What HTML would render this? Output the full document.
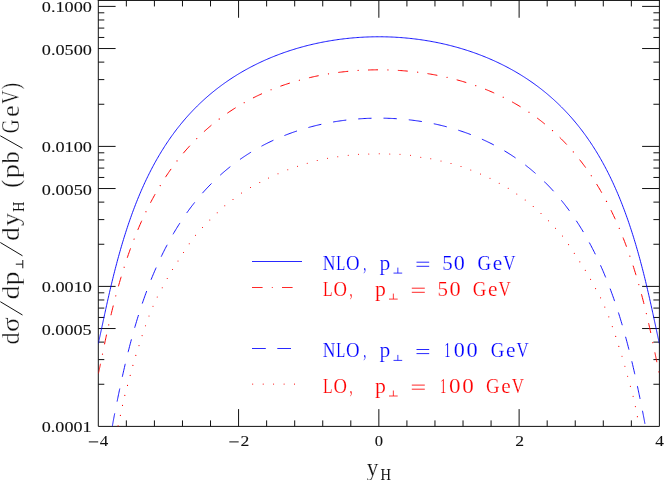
<!DOCTYPE html>
<html><head><meta charset="utf-8"><title>plot</title>
<style>
html,body{margin:0;padding:0;background:#fff;overflow:hidden;}
text.th{stroke:#fff;stroke-width:0.18px;paint-order:fill stroke;}
text.tk{stroke:#111;stroke-width:0.1px;}
text.tt{stroke:#fff;stroke-width:0.3px;paint-order:fill stroke;}
svg{position:absolute;left:0;top:0;display:block;font-family:"Liberation Serif",serif;will-change:transform;transform:translateZ(0);}
</style></head><body>
<svg width="664" height="480" viewBox="0 0 664 480">
<rect width="664" height="480" fill="#fff"/>
<g stroke="#111" stroke-width="1" fill="none" stroke-linecap="butt">
<path d="M98.3 -0.04999999999999999V426.4H659.4V-0.04999999999999999M97.8 0.45H659.9"/>
<path d="M126.35 426.4v-6.0M126.35 0.45v6.0M154.41 426.4v-6.0M154.41 0.45v6.0M182.47 426.4v-6.0M182.47 0.45v6.0M210.52 426.4v-6.0M210.52 0.45v6.0M238.57 426.4v-17.3M238.57 0.45v17.3M266.63 426.4v-6.0M266.63 0.45v6.0M294.69 426.4v-6.0M294.69 0.45v6.0M322.74 426.4v-6.0M322.74 0.45v6.0M350.80 426.4v-6.0M350.80 0.45v6.0M378.85 426.4v-17.3M378.85 0.45v17.3M406.91 426.4v-6.0M406.91 0.45v6.0M434.96 426.4v-6.0M434.96 0.45v6.0M463.02 426.4v-6.0M463.02 0.45v6.0M491.07 426.4v-6.0M491.07 0.45v6.0M519.12 426.4v-17.3M519.12 0.45v17.3M547.18 426.4v-6.0M547.18 0.45v6.0M575.24 426.4v-6.0M575.24 0.45v6.0M603.29 426.4v-6.0M603.29 0.45v6.0M631.35 426.4v-6.0M631.35 0.45v6.0M98.3 384.26h6.0M659.4 384.26h-6.0M98.3 359.60h6.0M659.4 359.60h-6.0M98.3 342.11h6.0M659.4 342.11h-6.0M98.3 328.54h17.3M659.4 328.54h-17.3M98.3 317.46h6.0M659.4 317.46h-6.0M98.3 308.09h6.0M659.4 308.09h-6.0M98.3 299.97h6.0M659.4 299.97h-6.0M98.3 292.81h6.0M659.4 292.81h-6.0M98.3 286.40h17.3M659.4 286.40h-17.3M98.3 244.26h6.0M659.4 244.26h-6.0M98.3 219.60h6.0M659.4 219.60h-6.0M98.3 202.11h6.0M659.4 202.11h-6.0M98.3 188.54h17.3M659.4 188.54h-17.3M98.3 177.46h6.0M659.4 177.46h-6.0M98.3 168.09h6.0M659.4 168.09h-6.0M98.3 159.97h6.0M659.4 159.97h-6.0M98.3 152.81h6.0M659.4 152.81h-6.0M98.3 146.40h17.3M659.4 146.40h-17.3M98.3 104.26h6.0M659.4 104.26h-6.0M98.3 79.60h6.0M659.4 79.60h-6.0M98.3 62.11h6.0M659.4 62.11h-6.0M98.3 48.54h17.3M659.4 48.54h-17.3M98.3 37.46h6.0M659.4 37.46h-6.0M98.3 28.09h6.0M659.4 28.09h-6.0M98.3 19.97h6.0M659.4 19.97h-6.0M98.3 12.81h6.0M659.4 12.81h-6.0M98.3 6.40h17.3M659.4 6.40h-17.3"/>
</g>
<clipPath id="cp"><rect x="98.3" y="0.45" width="561.1" height="425.95"/></clipPath>
<g clip-path="url(#cp)" fill="none" stroke-width="0.92">
<path d="M98.30 343.62L98.30 343.60L98.31 343.57L98.33 343.50L98.35 343.41L98.37 343.30L98.40 343.16L98.44 343.00L98.48 342.81L98.53 342.59L98.58 342.35L98.64 342.09L98.71 341.80L98.78 341.48L98.86 341.13L98.94 340.76L99.03 340.37L99.12 339.94L99.22 339.49L99.32 339.02L99.43 338.51L99.55 337.98L99.67 337.42L99.80 336.84L99.93 336.23L100.07 335.59L100.21 334.92L100.36 334.23L100.52 333.51L100.68 332.76L100.85 331.98L101.02 331.18L101.20 330.35L101.38 329.49L101.57 328.61L101.76 327.70L101.96 326.76L102.17 325.80L102.38 324.81L102.60 323.79L102.82 322.75L103.05 321.68L103.28 320.59L103.52 319.47L103.77 318.33L104.02 317.17L104.27 315.98L104.54 314.76L104.80 313.53L105.08 312.27L105.35 310.99L105.64 309.69L105.93 308.37L106.22 307.02L106.52 305.66L106.83 304.28L107.14 302.88L107.46 301.46L107.78 300.02L108.11 298.57L108.44 297.09L108.78 295.61L109.12 294.10L109.47 292.59L109.83 291.05L110.19 289.51L110.55 287.95L110.92 286.38L111.30 284.79L111.68 283.20L112.07 281.59L112.46 279.97L112.86 278.35L113.26 276.71L113.67 275.07L114.09 273.41L114.51 271.75L114.93 270.09L115.36 268.41L115.80 266.73L116.24 265.05L116.69 263.36L117.14 261.67L117.59 259.97L118.06 258.27L118.52 256.56L119.00 254.86L119.48 253.15L119.96 251.44L120.45 249.73L120.94 248.02L121.44 246.31L121.94 244.60L122.45 242.88L122.97 241.17L123.49 239.47L124.01 237.76L124.54 236.05L125.08 234.35L125.62 232.65L126.16 230.95L126.71 229.26L127.27 227.57L127.83 225.88L128.39 224.20L128.96 222.53L129.54 220.85L130.12 219.18L130.71 217.52L131.30 215.86L131.89 214.21L132.49 212.57L133.10 210.93L133.71 209.29L134.33 207.67L134.95 206.05L135.57 204.43L136.20 202.83L136.84 201.23L137.48 199.64L138.12 198.05L138.77 196.47L139.43 194.91L140.09 193.34L140.75 191.79L141.42 190.24L142.10 188.71L142.77 187.18L143.46 185.66L144.15 184.14L144.84 182.64L145.54 181.15L146.24 179.66L146.95 178.18L147.66 176.71L148.38 175.25L149.10 173.80L149.82 172.36L150.55 170.92L151.29 169.50L152.03 168.08L152.77 166.68L153.52 165.28L154.28 163.89L155.03 162.51L155.80 161.14L156.56 159.78L157.33 158.43L158.11 157.08L158.89 155.75L159.68 154.42L160.47 153.11L161.26 151.80L162.06 150.51L162.86 149.22L163.67 147.94L164.48 146.67L165.29 145.41L166.11 144.16L166.94 142.92L167.77 141.68L168.60 140.46L169.44 139.24L170.28 138.04L171.12 136.84L171.97 135.65L172.83 134.47L173.68 133.30L174.55 132.14L175.41 130.99L176.28 129.85L177.16 128.71L178.03 127.58L178.92 126.47L179.80 125.36L180.69 124.26L181.59 123.17L182.49 122.08L183.39 121.01L184.30 119.94L185.21 118.88L186.12 117.84L187.04 116.79L187.96 115.76L188.89 114.74L189.82 113.72L190.75 112.71L191.69 111.72L192.63 110.72L193.57 109.74L194.52 108.77L195.48 107.80L196.43 106.84L197.39 105.89L198.36 104.94L199.32 104.01L200.29 103.08L201.27 102.16L202.25 101.25L203.23 100.35L204.21 99.45L205.20 98.56L206.19 97.68L207.19 96.81L208.19 95.94L209.19 95.08L210.20 94.23L211.20 93.39L212.22 92.55L213.23 91.72L214.25 90.90L215.28 90.08L216.30 89.28L217.33 88.48L218.36 87.68L219.40 86.90L220.44 86.12L221.48 85.35L222.53 84.58L223.57 83.82L224.63 83.07L225.68 82.33L226.74 81.59L227.80 80.86L228.86 80.14L229.93 79.42L231.00 78.71L232.07 78.01L233.15 77.31L234.23 76.62L235.31 75.94L236.40 75.26L237.48 74.59L238.57 73.93L239.67 73.27L240.76 72.62L241.86 71.98L242.97 71.34L244.07 70.71L245.18 70.09L246.29 69.47L247.40 68.86L248.51 68.25L249.63 67.65L250.75 67.06L251.88 66.47L253.00 65.89L254.13 65.32L255.26 64.75L256.39 64.19L257.53 63.63L258.67 63.08L259.81 62.54L260.95 62.00L262.10 61.47L263.24 60.95L264.39 60.43L265.55 59.91L266.70 59.41L267.86 58.91L269.02 58.41L270.18 57.92L271.34 57.44L272.51 56.96L273.68 56.49L274.85 56.02L276.02 55.56L277.19 55.11L278.37 54.66L279.55 54.22L280.73 53.78L281.91 53.35L283.09 52.92L284.28 52.50L285.47 52.09L286.66 51.68L287.85 51.28L289.04 50.88L290.24 50.49L291.44 50.11L292.64 49.73L293.84 49.36L295.04 48.99L296.24 48.62L297.45 48.27L298.66 47.92L299.86 47.57L301.08 47.23L302.29 46.90L303.50 46.57L304.72 46.24L305.93 45.92L307.15 45.61L308.37 45.31L309.59 45.00L310.82 44.71L312.04 44.42L313.26 44.13L314.49 43.85L315.72 43.58L316.95 43.31L318.18 43.05L319.41 42.79L320.64 42.54L321.88 42.29L323.11 42.05L324.35 41.82L325.59 41.59L326.83 41.36L328.06 41.14L329.31 40.93L330.55 40.72L331.79 40.52L333.03 40.32L334.28 40.13L335.52 39.94L336.77 39.76L338.02 39.58L339.26 39.41L340.51 39.24L341.76 39.08L343.01 38.93L344.26 38.78L345.51 38.64L346.77 38.50L348.02 38.36L349.27 38.24L350.53 38.11L351.78 38.00L353.04 37.89L354.29 37.78L355.55 37.68L356.81 37.58L358.06 37.49L359.32 37.41L360.58 37.33L361.84 37.25L363.10 37.18L364.36 37.12L365.62 37.06L366.88 37.01L368.13 36.96L369.39 36.92L370.66 36.88L371.92 36.85L373.18 36.82L374.44 36.80L375.70 36.78L376.96 36.77L378.22 36.77L379.48 36.77L380.74 36.77L382.00 36.78L383.26 36.80L384.52 36.82L385.78 36.85L387.04 36.88L388.31 36.92L389.57 36.96L390.82 37.01L392.08 37.06L393.34 37.12L394.60 37.18L395.86 37.25L397.12 37.33L398.38 37.41L399.64 37.49L400.89 37.58L402.15 37.68L403.41 37.78L404.66 37.89L405.92 38.00L407.17 38.11L408.43 38.24L409.68 38.36L410.93 38.50L412.19 38.64L413.44 38.78L414.69 38.93L415.94 39.08L417.19 39.24L418.44 39.41L419.68 39.58L420.93 39.76L422.18 39.94L423.42 40.13L424.67 40.32L425.91 40.52L427.15 40.72L428.39 40.93L429.64 41.14L430.87 41.36L432.11 41.59L433.35 41.82L434.59 42.05L435.82 42.29L437.06 42.54L438.29 42.79L439.52 43.05L440.75 43.31L441.98 43.58L443.21 43.85L444.44 44.13L445.66 44.42L446.88 44.71L448.11 45.00L449.33 45.31L450.55 45.61L451.77 45.92L452.98 46.24L454.20 46.57L455.41 46.90L456.62 47.23L457.84 47.57L459.04 47.92L460.25 48.27L461.46 48.62L462.66 48.99L463.86 49.36L465.06 49.73L466.26 50.11L467.46 50.49L468.66 50.88L469.85 51.28L471.04 51.68L472.23 52.09L473.42 52.50L474.61 52.92L475.79 53.35L476.97 53.78L478.15 54.22L479.33 54.66L480.51 55.11L481.68 55.56L482.85 56.02L484.02 56.49L485.19 56.96L486.36 57.44L487.52 57.92L488.68 58.41L489.84 58.91L491.00 59.41L492.15 59.91L493.31 60.43L494.46 60.95L495.60 61.47L496.75 62.00L497.89 62.54L499.03 63.08L500.17 63.63L501.31 64.19L502.44 64.75L503.57 65.32L504.70 65.89L505.82 66.47L506.95 67.06L508.07 67.65L509.19 68.25L510.30 68.86L511.41 69.47L512.52 70.09L513.63 70.71L514.73 71.34L515.84 71.98L516.94 72.62L518.03 73.27L519.12 73.93L520.22 74.59L521.30 75.26L522.39 75.94L523.47 76.62L524.55 77.31L525.63 78.01L526.70 78.71L527.77 79.42L528.84 80.14L529.90 80.86L530.96 81.59L532.02 82.33L533.07 83.07L534.13 83.82L535.17 84.58L536.22 85.35L537.26 86.12L538.30 86.90L539.34 87.68L540.37 88.48L541.40 89.28L542.42 90.08L543.45 90.90L544.47 91.72L545.48 92.55L546.50 93.39L547.50 94.23L548.51 95.08L549.51 95.94L550.51 96.81L551.51 97.68L552.50 98.56L553.49 99.45L554.47 100.35L555.45 101.25L556.43 102.16L557.41 103.08L558.38 104.01L559.34 104.94L560.31 105.89L561.27 106.84L562.22 107.80L563.18 108.77L564.13 109.74L565.07 110.72L566.01 111.72L566.95 112.71L567.88 113.72L568.81 114.74L569.74 115.76L570.66 116.79L571.58 117.84L572.49 118.88L573.40 119.94L574.31 121.01L575.21 122.08L576.11 123.17L577.01 124.26L577.90 125.36L578.78 126.47L579.67 127.58L580.54 128.71L581.42 129.85L582.29 130.99L583.15 132.14L584.02 133.30L584.87 134.47L585.73 135.65L586.58 136.84L587.42 138.04L588.26 139.24L589.10 140.46L589.93 141.68L590.76 142.92L591.59 144.16L592.41 145.41L593.22 146.67L594.03 147.94L594.84 149.22L595.64 150.51L596.44 151.80L597.23 153.11L598.02 154.42L598.81 155.75L599.59 157.08L600.37 158.43L601.14 159.78L601.90 161.14L602.67 162.51L603.42 163.89L604.18 165.28L604.93 166.68L605.67 168.08L606.41 169.50L607.15 170.92L607.88 172.36L608.60 173.80L609.32 175.25L610.04 176.71L610.75 178.18L611.46 179.66L612.16 181.15L612.86 182.64L613.55 184.14L614.24 185.66L614.93 187.18L615.60 188.71L616.28 190.24L616.95 191.79L617.61 193.34L618.27 194.91L618.93 196.47L619.58 198.05L620.22 199.64L620.86 201.23L621.50 202.83L622.13 204.43L622.75 206.05L623.37 207.67L623.99 209.29L624.60 210.93L625.21 212.57L625.81 214.21L626.40 215.86L626.99 217.52L627.58 219.18L628.16 220.85L628.74 222.53L629.31 224.20L629.87 225.88L630.43 227.57L630.99 229.26L631.54 230.95L632.08 232.65L632.62 234.35L633.16 236.05L633.69 237.76L634.21 239.47L634.73 241.17L635.25 242.88L635.76 244.60L636.26 246.31L636.76 248.02L637.25 249.73L637.74 251.44L638.22 253.15L638.70 254.86L639.18 256.56L639.64 258.27L640.11 259.97L640.56 261.67L641.01 263.36L641.46 265.05L641.90 266.73L642.34 268.41L642.77 270.09L643.19 271.75L643.61 273.41L644.03 275.07L644.44 276.71L644.84 278.35L645.24 279.97L645.63 281.59L646.02 283.20L646.40 284.79L646.78 286.38L647.15 287.95L647.51 289.51L647.87 291.05L648.23 292.59L648.58 294.10L648.92 295.61L649.26 297.09L649.59 298.57L649.92 300.02L650.24 301.46L650.56 302.88L650.87 304.28L651.18 305.66L651.48 307.02L651.77 308.37L652.06 309.69L652.35 310.99L652.62 312.27L652.90 313.53L653.16 314.76L653.43 315.98L653.68 317.17L653.93 318.33L654.18 319.47L654.42 320.59L654.65 321.68L654.88 322.75L655.10 323.79L655.32 324.81L655.53 325.80L655.74 326.76L655.94 327.70L656.13 328.61L656.32 329.49L656.50 330.35L656.68 331.18L656.85 331.98L657.02 332.76L657.18 333.51L657.34 334.23L657.49 334.92L657.63 335.59L657.77 336.23L657.90 336.84L658.03 337.42L658.15 337.98L658.27 338.51L658.38 339.02L658.48 339.49L658.58 339.94L658.67 340.37L658.76 340.76L658.84 341.13L658.92 341.48L658.99 341.80L659.06 342.09L659.12 342.35L659.17 342.59L659.22 342.81L659.26 343.00L659.30 343.16L659.33 343.30L659.35 343.41L659.37 343.50L659.39 343.57L659.40 343.60L659.40 343.62" stroke="#0000ff"/>
<path d="M98.30 373.96L98.30 373.95L98.31 373.91L98.33 373.85L98.35 373.76L98.37 373.65L98.40 373.52L98.44 373.36L98.48 373.17L98.53 372.96L98.58 372.73L98.64 372.46L98.71 372.17L98.78 371.86L98.86 371.52L98.94 371.14L99.03 370.75L99.12 370.32L99.22 369.86L99.32 369.38L99.43 368.87L99.55 368.33L99.67 367.76L99.80 367.15L99.93 366.52L100.07 365.86L100.21 365.17L100.36 364.45L100.52 363.71L100.68 362.93L100.85 362.12L101.02 361.28L101.20 360.41L101.38 359.52L101.57 358.59L101.76 357.64L101.96 356.66L102.17 355.65L102.38 354.61L102.60 353.55L102.82 352.46L103.05 351.35L103.28 350.21L103.52 349.04L103.77 347.85L104.02 346.64L104.27 345.40L104.54 344.15L104.80 342.87L105.08 341.57L105.35 340.24L105.64 338.90L105.93 337.54L106.22 336.16L106.52 334.77L106.83 333.35L107.14 331.92L107.46 330.47L107.78 329.01L108.11 327.54L108.44 326.04L108.78 324.54L109.12 323.02L109.47 321.49L109.83 319.95L110.19 318.40L110.55 316.84L110.92 315.27L111.30 313.68L111.68 312.09L112.07 310.50L112.46 308.89L112.86 307.28L113.26 305.66L113.67 304.03L114.09 302.40L114.51 300.76L114.93 299.12L115.36 297.48L115.80 295.83L116.24 294.17L116.69 292.52L117.14 290.86L117.59 289.20L118.06 287.54L118.52 285.88L119.00 284.21L119.48 282.55L119.96 280.88L120.45 279.22L120.94 277.56L121.44 275.89L121.94 274.23L122.45 272.57L122.97 270.91L123.49 269.25L124.01 267.60L124.54 265.95L125.08 264.30L125.62 262.65L126.16 261.01L126.71 259.37L127.27 257.73L127.83 256.10L128.39 254.47L128.96 252.85L129.54 251.23L130.12 249.61L130.71 248.00L131.30 246.40L131.89 244.80L132.49 243.20L133.10 241.61L133.71 240.03L134.33 238.45L134.95 236.88L135.57 235.32L136.20 233.76L136.84 232.21L137.48 230.66L138.12 229.12L138.77 227.59L139.43 226.06L140.09 224.54L140.75 223.03L141.42 221.52L142.10 220.03L142.77 218.53L143.46 217.05L144.15 215.57L144.84 214.11L145.54 212.65L146.24 211.19L146.95 209.75L147.66 208.31L148.38 206.88L149.10 205.45L149.82 204.04L150.55 202.63L151.29 201.23L152.03 199.84L152.77 198.46L153.52 197.09L154.28 195.72L155.03 194.36L155.80 193.01L156.56 191.67L157.33 190.33L158.11 189.01L158.89 187.69L159.68 186.38L160.47 185.08L161.26 183.79L162.06 182.50L162.86 181.23L163.67 179.96L164.48 178.70L165.29 177.45L166.11 176.21L166.94 174.97L167.77 173.75L168.60 172.53L169.44 171.32L170.28 170.12L171.12 168.93L171.97 167.74L172.83 166.57L173.68 165.40L174.55 164.24L175.41 163.09L176.28 161.95L177.16 160.82L178.03 159.69L178.92 158.57L179.80 157.47L180.69 156.36L181.59 155.27L182.49 154.19L183.39 153.11L184.30 152.04L185.21 150.99L186.12 149.93L187.04 148.89L187.96 147.86L188.89 146.83L189.82 145.81L190.75 144.80L191.69 143.80L192.63 142.80L193.57 141.82L194.52 140.84L195.48 139.87L196.43 138.90L197.39 137.95L198.36 137.00L199.32 136.06L200.29 135.13L201.27 134.21L202.25 133.29L203.23 132.38L204.21 131.48L205.20 130.59L206.19 129.71L207.19 128.83L208.19 127.96L209.19 127.10L210.20 126.25L211.20 125.40L212.22 124.56L213.23 123.73L214.25 122.91L215.28 122.09L216.30 121.28L217.33 120.48L218.36 119.68L219.40 118.90L220.44 118.12L221.48 117.34L222.53 116.58L223.57 115.82L224.63 115.07L225.68 114.33L226.74 113.59L227.80 112.86L228.86 112.14L229.93 111.43L231.00 110.72L232.07 110.02L233.15 109.32L234.23 108.63L235.31 107.95L236.40 107.28L237.48 106.62L238.57 105.96L239.67 105.30L240.76 104.66L241.86 104.02L242.97 103.39L244.07 102.76L245.18 102.14L246.29 101.53L247.40 100.92L248.51 100.32L249.63 99.73L250.75 99.14L251.88 98.56L253.00 97.99L254.13 97.42L255.26 96.86L256.39 96.31L257.53 95.76L258.67 95.22L259.81 94.69L260.95 94.16L262.10 93.64L263.24 93.12L264.39 92.61L265.55 92.11L266.70 91.61L267.86 91.12L269.02 90.63L270.18 90.16L271.34 89.68L272.51 89.22L273.68 88.76L274.85 88.30L276.02 87.85L277.19 87.41L278.37 86.97L279.55 86.54L280.73 86.12L281.91 85.70L283.09 85.29L284.28 84.88L285.47 84.48L286.66 84.08L287.85 83.69L289.04 83.31L290.24 82.93L291.44 82.56L292.64 82.19L293.84 81.83L295.04 81.47L296.24 81.12L297.45 80.78L298.66 80.44L299.86 80.11L301.08 79.78L302.29 79.46L303.50 79.14L304.72 78.83L305.93 78.53L307.15 78.23L308.37 77.93L309.59 77.64L310.82 77.36L312.04 77.08L313.26 76.81L314.49 76.54L315.72 76.28L316.95 76.02L318.18 75.77L319.41 75.53L320.64 75.29L321.88 75.05L323.11 74.82L324.35 74.60L325.59 74.38L326.83 74.16L328.06 73.96L329.31 73.75L330.55 73.55L331.79 73.36L333.03 73.17L334.28 72.99L335.52 72.81L336.77 72.64L338.02 72.47L339.26 72.31L340.51 72.16L341.76 72.00L343.01 71.86L344.26 71.72L345.51 71.58L346.77 71.45L348.02 71.32L349.27 71.20L350.53 71.09L351.78 70.98L353.04 70.87L354.29 70.77L355.55 70.67L356.81 70.58L358.06 70.50L359.32 70.42L360.58 70.34L361.84 70.27L363.10 70.21L364.36 70.15L365.62 70.09L366.88 70.04L368.13 70.00L369.39 69.96L370.66 69.92L371.92 69.89L373.18 69.87L374.44 69.85L375.70 69.83L376.96 69.82L378.22 69.82L379.48 69.82L380.74 69.82L382.00 69.83L383.26 69.85L384.52 69.87L385.78 69.89L387.04 69.92L388.31 69.96L389.57 70.00L390.82 70.04L392.08 70.09L393.34 70.15L394.60 70.21L395.86 70.27L397.12 70.34L398.38 70.42L399.64 70.50L400.89 70.58L402.15 70.67L403.41 70.77L404.66 70.87L405.92 70.98L407.17 71.09L408.43 71.20L409.68 71.32L410.93 71.45L412.19 71.58L413.44 71.72L414.69 71.86L415.94 72.00L417.19 72.16L418.44 72.31L419.68 72.47L420.93 72.64L422.18 72.81L423.42 72.99L424.67 73.17L425.91 73.36L427.15 73.55L428.39 73.75L429.64 73.96L430.87 74.16L432.11 74.38L433.35 74.60L434.59 74.82L435.82 75.05L437.06 75.29L438.29 75.53L439.52 75.77L440.75 76.02L441.98 76.28L443.21 76.54L444.44 76.81L445.66 77.08L446.88 77.36L448.11 77.64L449.33 77.93L450.55 78.23L451.77 78.53L452.98 78.83L454.20 79.14L455.41 79.46L456.62 79.78L457.84 80.11L459.04 80.44L460.25 80.78L461.46 81.12L462.66 81.47L463.86 81.83L465.06 82.19L466.26 82.56L467.46 82.93L468.66 83.31L469.85 83.69L471.04 84.08L472.23 84.48L473.42 84.88L474.61 85.29L475.79 85.70L476.97 86.12L478.15 86.54L479.33 86.97L480.51 87.41L481.68 87.85L482.85 88.30L484.02 88.76L485.19 89.22L486.36 89.68L487.52 90.16L488.68 90.63L489.84 91.12L491.00 91.61L492.15 92.11L493.31 92.61L494.46 93.12L495.60 93.64L496.75 94.16L497.89 94.69L499.03 95.22L500.17 95.76L501.31 96.31L502.44 96.86L503.57 97.42L504.70 97.99L505.82 98.56L506.95 99.14L508.07 99.73L509.19 100.32L510.30 100.92L511.41 101.53L512.52 102.14L513.63 102.76L514.73 103.39L515.84 104.02L516.94 104.66L518.03 105.30L519.12 105.96L520.22 106.62L521.30 107.28L522.39 107.95L523.47 108.63L524.55 109.32L525.63 110.02L526.70 110.72L527.77 111.43L528.84 112.14L529.90 112.86L530.96 113.59L532.02 114.33L533.07 115.07L534.13 115.82L535.17 116.58L536.22 117.34L537.26 118.12L538.30 118.90L539.34 119.68L540.37 120.48L541.40 121.28L542.42 122.09L543.45 122.91L544.47 123.73L545.48 124.56L546.50 125.40L547.50 126.25L548.51 127.10L549.51 127.96L550.51 128.83L551.51 129.71L552.50 130.59L553.49 131.48L554.47 132.38L555.45 133.29L556.43 134.21L557.41 135.13L558.38 136.06L559.34 137.00L560.31 137.95L561.27 138.90L562.22 139.87L563.18 140.84L564.13 141.82L565.07 142.80L566.01 143.80L566.95 144.80L567.88 145.81L568.81 146.83L569.74 147.86L570.66 148.89L571.58 149.93L572.49 150.99L573.40 152.04L574.31 153.11L575.21 154.19L576.11 155.27L577.01 156.36L577.90 157.47L578.78 158.57L579.67 159.69L580.54 160.82L581.42 161.95L582.29 163.09L583.15 164.24L584.02 165.40L584.87 166.57L585.73 167.74L586.58 168.93L587.42 170.12L588.26 171.32L589.10 172.53L589.93 173.75L590.76 174.97L591.59 176.21L592.41 177.45L593.22 178.70L594.03 179.96L594.84 181.23L595.64 182.50L596.44 183.79L597.23 185.08L598.02 186.38L598.81 187.69L599.59 189.01L600.37 190.33L601.14 191.67L601.90 193.01L602.67 194.36L603.42 195.72L604.18 197.09L604.93 198.46L605.67 199.84L606.41 201.23L607.15 202.63L607.88 204.04L608.60 205.45L609.32 206.88L610.04 208.31L610.75 209.75L611.46 211.19L612.16 212.65L612.86 214.11L613.55 215.57L614.24 217.05L614.93 218.53L615.60 220.03L616.28 221.52L616.95 223.03L617.61 224.54L618.27 226.06L618.93 227.59L619.58 229.12L620.22 230.66L620.86 232.21L621.50 233.76L622.13 235.32L622.75 236.88L623.37 238.45L623.99 240.03L624.60 241.61L625.21 243.20L625.81 244.80L626.40 246.40L626.99 248.00L627.58 249.61L628.16 251.23L628.74 252.85L629.31 254.47L629.87 256.10L630.43 257.73L630.99 259.37L631.54 261.01L632.08 262.65L632.62 264.30L633.16 265.95L633.69 267.60L634.21 269.25L634.73 270.91L635.25 272.57L635.76 274.23L636.26 275.89L636.76 277.56L637.25 279.22L637.74 280.88L638.22 282.55L638.70 284.21L639.18 285.88L639.64 287.54L640.11 289.20L640.56 290.86L641.01 292.52L641.46 294.17L641.90 295.83L642.34 297.48L642.77 299.12L643.19 300.76L643.61 302.40L644.03 304.03L644.44 305.66L644.84 307.28L645.24 308.89L645.63 310.50L646.02 312.09L646.40 313.68L646.78 315.27L647.15 316.84L647.51 318.40L647.87 319.95L648.23 321.49L648.58 323.02L648.92 324.54L649.26 326.04L649.59 327.54L649.92 329.01L650.24 330.47L650.56 331.92L650.87 333.35L651.18 334.77L651.48 336.16L651.77 337.54L652.06 338.90L652.35 340.24L652.62 341.57L652.90 342.87L653.16 344.15L653.43 345.40L653.68 346.64L653.93 347.85L654.18 349.04L654.42 350.21L654.65 351.35L654.88 352.46L655.10 353.55L655.32 354.61L655.53 355.65L655.74 356.66L655.94 357.64L656.13 358.59L656.32 359.52L656.50 360.41L656.68 361.28L656.85 362.12L657.02 362.93L657.18 363.71L657.34 364.45L657.49 365.17L657.63 365.86L657.77 366.52L657.90 367.15L658.03 367.76L658.15 368.33L658.27 368.87L658.38 369.38L658.48 369.86L658.58 370.32L658.67 370.75L658.76 371.14L658.84 371.52L658.92 371.86L658.99 372.17L659.06 372.46L659.12 372.73L659.17 372.96L659.22 373.17L659.26 373.36L659.30 373.52L659.33 373.65L659.35 373.76L659.37 373.85L659.39 373.91L659.40 373.95L659.40 373.96" stroke="#ff0000" stroke-width="1" stroke-dasharray="10 19.84" stroke-dashoffset="29.44"/>
<path d="M98.30 373.96L98.30 373.95L98.31 373.91L98.33 373.85L98.35 373.76L98.37 373.65L98.40 373.52L98.44 373.36L98.48 373.17L98.53 372.96L98.58 372.73L98.64 372.46L98.71 372.17L98.78 371.86L98.86 371.52L98.94 371.14L99.03 370.75L99.12 370.32L99.22 369.86L99.32 369.38L99.43 368.87L99.55 368.33L99.67 367.76L99.80 367.15L99.93 366.52L100.07 365.86L100.21 365.17L100.36 364.45L100.52 363.71L100.68 362.93L100.85 362.12L101.02 361.28L101.20 360.41L101.38 359.52L101.57 358.59L101.76 357.64L101.96 356.66L102.17 355.65L102.38 354.61L102.60 353.55L102.82 352.46L103.05 351.35L103.28 350.21L103.52 349.04L103.77 347.85L104.02 346.64L104.27 345.40L104.54 344.15L104.80 342.87L105.08 341.57L105.35 340.24L105.64 338.90L105.93 337.54L106.22 336.16L106.52 334.77L106.83 333.35L107.14 331.92L107.46 330.47L107.78 329.01L108.11 327.54L108.44 326.04L108.78 324.54L109.12 323.02L109.47 321.49L109.83 319.95L110.19 318.40L110.55 316.84L110.92 315.27L111.30 313.68L111.68 312.09L112.07 310.50L112.46 308.89L112.86 307.28L113.26 305.66L113.67 304.03L114.09 302.40L114.51 300.76L114.93 299.12L115.36 297.48L115.80 295.83L116.24 294.17L116.69 292.52L117.14 290.86L117.59 289.20L118.06 287.54L118.52 285.88L119.00 284.21L119.48 282.55L119.96 280.88L120.45 279.22L120.94 277.56L121.44 275.89L121.94 274.23L122.45 272.57L122.97 270.91L123.49 269.25L124.01 267.60L124.54 265.95L125.08 264.30L125.62 262.65L126.16 261.01L126.71 259.37L127.27 257.73L127.83 256.10L128.39 254.47L128.96 252.85L129.54 251.23L130.12 249.61L130.71 248.00L131.30 246.40L131.89 244.80L132.49 243.20L133.10 241.61L133.71 240.03L134.33 238.45L134.95 236.88L135.57 235.32L136.20 233.76L136.84 232.21L137.48 230.66L138.12 229.12L138.77 227.59L139.43 226.06L140.09 224.54L140.75 223.03L141.42 221.52L142.10 220.03L142.77 218.53L143.46 217.05L144.15 215.57L144.84 214.11L145.54 212.65L146.24 211.19L146.95 209.75L147.66 208.31L148.38 206.88L149.10 205.45L149.82 204.04L150.55 202.63L151.29 201.23L152.03 199.84L152.77 198.46L153.52 197.09L154.28 195.72L155.03 194.36L155.80 193.01L156.56 191.67L157.33 190.33L158.11 189.01L158.89 187.69L159.68 186.38L160.47 185.08L161.26 183.79L162.06 182.50L162.86 181.23L163.67 179.96L164.48 178.70L165.29 177.45L166.11 176.21L166.94 174.97L167.77 173.75L168.60 172.53L169.44 171.32L170.28 170.12L171.12 168.93L171.97 167.74L172.83 166.57L173.68 165.40L174.55 164.24L175.41 163.09L176.28 161.95L177.16 160.82L178.03 159.69L178.92 158.57L179.80 157.47L180.69 156.36L181.59 155.27L182.49 154.19L183.39 153.11L184.30 152.04L185.21 150.99L186.12 149.93L187.04 148.89L187.96 147.86L188.89 146.83L189.82 145.81L190.75 144.80L191.69 143.80L192.63 142.80L193.57 141.82L194.52 140.84L195.48 139.87L196.43 138.90L197.39 137.95L198.36 137.00L199.32 136.06L200.29 135.13L201.27 134.21L202.25 133.29L203.23 132.38L204.21 131.48L205.20 130.59L206.19 129.71L207.19 128.83L208.19 127.96L209.19 127.10L210.20 126.25L211.20 125.40L212.22 124.56L213.23 123.73L214.25 122.91L215.28 122.09L216.30 121.28L217.33 120.48L218.36 119.68L219.40 118.90L220.44 118.12L221.48 117.34L222.53 116.58L223.57 115.82L224.63 115.07L225.68 114.33L226.74 113.59L227.80 112.86L228.86 112.14L229.93 111.43L231.00 110.72L232.07 110.02L233.15 109.32L234.23 108.63L235.31 107.95L236.40 107.28L237.48 106.62L238.57 105.96L239.67 105.30L240.76 104.66L241.86 104.02L242.97 103.39L244.07 102.76L245.18 102.14L246.29 101.53L247.40 100.92L248.51 100.32L249.63 99.73L250.75 99.14L251.88 98.56L253.00 97.99L254.13 97.42L255.26 96.86L256.39 96.31L257.53 95.76L258.67 95.22L259.81 94.69L260.95 94.16L262.10 93.64L263.24 93.12L264.39 92.61L265.55 92.11L266.70 91.61L267.86 91.12L269.02 90.63L270.18 90.16L271.34 89.68L272.51 89.22L273.68 88.76L274.85 88.30L276.02 87.85L277.19 87.41L278.37 86.97L279.55 86.54L280.73 86.12L281.91 85.70L283.09 85.29L284.28 84.88L285.47 84.48L286.66 84.08L287.85 83.69L289.04 83.31L290.24 82.93L291.44 82.56L292.64 82.19L293.84 81.83L295.04 81.47L296.24 81.12L297.45 80.78L298.66 80.44L299.86 80.11L301.08 79.78L302.29 79.46L303.50 79.14L304.72 78.83L305.93 78.53L307.15 78.23L308.37 77.93L309.59 77.64L310.82 77.36L312.04 77.08L313.26 76.81L314.49 76.54L315.72 76.28L316.95 76.02L318.18 75.77L319.41 75.53L320.64 75.29L321.88 75.05L323.11 74.82L324.35 74.60L325.59 74.38L326.83 74.16L328.06 73.96L329.31 73.75L330.55 73.55L331.79 73.36L333.03 73.17L334.28 72.99L335.52 72.81L336.77 72.64L338.02 72.47L339.26 72.31L340.51 72.16L341.76 72.00L343.01 71.86L344.26 71.72L345.51 71.58L346.77 71.45L348.02 71.32L349.27 71.20L350.53 71.09L351.78 70.98L353.04 70.87L354.29 70.77L355.55 70.67L356.81 70.58L358.06 70.50L359.32 70.42L360.58 70.34L361.84 70.27L363.10 70.21L364.36 70.15L365.62 70.09L366.88 70.04L368.13 70.00L369.39 69.96L370.66 69.92L371.92 69.89L373.18 69.87L374.44 69.85L375.70 69.83L376.96 69.82L378.22 69.82L379.48 69.82L380.74 69.82L382.00 69.83L383.26 69.85L384.52 69.87L385.78 69.89L387.04 69.92L388.31 69.96L389.57 70.00L390.82 70.04L392.08 70.09L393.34 70.15L394.60 70.21L395.86 70.27L397.12 70.34L398.38 70.42L399.64 70.50L400.89 70.58L402.15 70.67L403.41 70.77L404.66 70.87L405.92 70.98L407.17 71.09L408.43 71.20L409.68 71.32L410.93 71.45L412.19 71.58L413.44 71.72L414.69 71.86L415.94 72.00L417.19 72.16L418.44 72.31L419.68 72.47L420.93 72.64L422.18 72.81L423.42 72.99L424.67 73.17L425.91 73.36L427.15 73.55L428.39 73.75L429.64 73.96L430.87 74.16L432.11 74.38L433.35 74.60L434.59 74.82L435.82 75.05L437.06 75.29L438.29 75.53L439.52 75.77L440.75 76.02L441.98 76.28L443.21 76.54L444.44 76.81L445.66 77.08L446.88 77.36L448.11 77.64L449.33 77.93L450.55 78.23L451.77 78.53L452.98 78.83L454.20 79.14L455.41 79.46L456.62 79.78L457.84 80.11L459.04 80.44L460.25 80.78L461.46 81.12L462.66 81.47L463.86 81.83L465.06 82.19L466.26 82.56L467.46 82.93L468.66 83.31L469.85 83.69L471.04 84.08L472.23 84.48L473.42 84.88L474.61 85.29L475.79 85.70L476.97 86.12L478.15 86.54L479.33 86.97L480.51 87.41L481.68 87.85L482.85 88.30L484.02 88.76L485.19 89.22L486.36 89.68L487.52 90.16L488.68 90.63L489.84 91.12L491.00 91.61L492.15 92.11L493.31 92.61L494.46 93.12L495.60 93.64L496.75 94.16L497.89 94.69L499.03 95.22L500.17 95.76L501.31 96.31L502.44 96.86L503.57 97.42L504.70 97.99L505.82 98.56L506.95 99.14L508.07 99.73L509.19 100.32L510.30 100.92L511.41 101.53L512.52 102.14L513.63 102.76L514.73 103.39L515.84 104.02L516.94 104.66L518.03 105.30L519.12 105.96L520.22 106.62L521.30 107.28L522.39 107.95L523.47 108.63L524.55 109.32L525.63 110.02L526.70 110.72L527.77 111.43L528.84 112.14L529.90 112.86L530.96 113.59L532.02 114.33L533.07 115.07L534.13 115.82L535.17 116.58L536.22 117.34L537.26 118.12L538.30 118.90L539.34 119.68L540.37 120.48L541.40 121.28L542.42 122.09L543.45 122.91L544.47 123.73L545.48 124.56L546.50 125.40L547.50 126.25L548.51 127.10L549.51 127.96L550.51 128.83L551.51 129.71L552.50 130.59L553.49 131.48L554.47 132.38L555.45 133.29L556.43 134.21L557.41 135.13L558.38 136.06L559.34 137.00L560.31 137.95L561.27 138.90L562.22 139.87L563.18 140.84L564.13 141.82L565.07 142.80L566.01 143.80L566.95 144.80L567.88 145.81L568.81 146.83L569.74 147.86L570.66 148.89L571.58 149.93L572.49 150.99L573.40 152.04L574.31 153.11L575.21 154.19L576.11 155.27L577.01 156.36L577.90 157.47L578.78 158.57L579.67 159.69L580.54 160.82L581.42 161.95L582.29 163.09L583.15 164.24L584.02 165.40L584.87 166.57L585.73 167.74L586.58 168.93L587.42 170.12L588.26 171.32L589.10 172.53L589.93 173.75L590.76 174.97L591.59 176.21L592.41 177.45L593.22 178.70L594.03 179.96L594.84 181.23L595.64 182.50L596.44 183.79L597.23 185.08L598.02 186.38L598.81 187.69L599.59 189.01L600.37 190.33L601.14 191.67L601.90 193.01L602.67 194.36L603.42 195.72L604.18 197.09L604.93 198.46L605.67 199.84L606.41 201.23L607.15 202.63L607.88 204.04L608.60 205.45L609.32 206.88L610.04 208.31L610.75 209.75L611.46 211.19L612.16 212.65L612.86 214.11L613.55 215.57L614.24 217.05L614.93 218.53L615.60 220.03L616.28 221.52L616.95 223.03L617.61 224.54L618.27 226.06L618.93 227.59L619.58 229.12L620.22 230.66L620.86 232.21L621.50 233.76L622.13 235.32L622.75 236.88L623.37 238.45L623.99 240.03L624.60 241.61L625.21 243.20L625.81 244.80L626.40 246.40L626.99 248.00L627.58 249.61L628.16 251.23L628.74 252.85L629.31 254.47L629.87 256.10L630.43 257.73L630.99 259.37L631.54 261.01L632.08 262.65L632.62 264.30L633.16 265.95L633.69 267.60L634.21 269.25L634.73 270.91L635.25 272.57L635.76 274.23L636.26 275.89L636.76 277.56L637.25 279.22L637.74 280.88L638.22 282.55L638.70 284.21L639.18 285.88L639.64 287.54L640.11 289.20L640.56 290.86L641.01 292.52L641.46 294.17L641.90 295.83L642.34 297.48L642.77 299.12L643.19 300.76L643.61 302.40L644.03 304.03L644.44 305.66L644.84 307.28L645.24 308.89L645.63 310.50L646.02 312.09L646.40 313.68L646.78 315.27L647.15 316.84L647.51 318.40L647.87 319.95L648.23 321.49L648.58 323.02L648.92 324.54L649.26 326.04L649.59 327.54L649.92 329.01L650.24 330.47L650.56 331.92L650.87 333.35L651.18 334.77L651.48 336.16L651.77 337.54L652.06 338.90L652.35 340.24L652.62 341.57L652.90 342.87L653.16 344.15L653.43 345.40L653.68 346.64L653.93 347.85L654.18 349.04L654.42 350.21L654.65 351.35L654.88 352.46L655.10 353.55L655.32 354.61L655.53 355.65L655.74 356.66L655.94 357.64L656.13 358.59L656.32 359.52L656.50 360.41L656.68 361.28L656.85 362.12L657.02 362.93L657.18 363.71L657.34 364.45L657.49 365.17L657.63 365.86L657.77 366.52L657.90 367.15L658.03 367.76L658.15 368.33L658.27 368.87L658.38 369.38L658.48 369.86L658.58 370.32L658.67 370.75L658.76 371.14L658.84 371.52L658.92 371.86L658.99 372.17L659.06 372.46L659.12 372.73L659.17 372.96L659.22 373.17L659.26 373.36L659.30 373.52L659.33 373.65L659.35 373.76L659.37 373.85L659.39 373.91L659.40 373.95L659.40 373.96" stroke="#ff0000" stroke-width="1.25" stroke-linecap="round" stroke-dasharray="0.01 29.83" stroke-dashoffset="9.52"/>
<path id="da" d="M112.05 428.37L112.05 428.35L112.06 428.29L112.07 428.20L112.09 428.06L112.12 427.90L112.14 427.69L112.18 427.46L112.22 427.19L112.27 426.88L112.32 426.55L112.37 426.19L112.44 425.80L112.50 425.38L112.58 424.93L112.65 424.46L112.74 423.97L112.83 423.45L112.92 422.91L113.02 422.34L113.12 421.76L113.24 421.15L113.35 420.52L113.47 419.86L113.60 419.19L113.73 418.49L113.87 417.77L114.01 417.03L114.16 416.26L114.31 415.47L114.47 414.66L114.63 413.82L114.80 412.96L114.98 412.08L115.16 411.17L115.34 410.24L115.53 409.29L115.73 408.31L115.93 407.30L116.14 406.28L116.35 405.22L116.56 404.15L116.79 403.05L117.01 401.93L117.25 400.78L117.49 399.61L117.73 398.42L117.98 397.21L118.23 395.98L118.49 394.72L118.76 393.44L119.03 392.15L119.30 390.83L119.58 389.49L119.87 388.14L120.16 386.77L120.45 385.38L120.75 383.97L121.06 382.55L121.37 381.11L121.69 379.65L122.01 378.18L122.34 376.70L122.67 375.20L123.01 373.69L123.35 372.17L123.70 370.63L124.05 369.09L124.41 367.53L124.77 365.96L125.14 364.39L125.52 362.80L125.90 361.21L126.28 359.61L126.67 358.00L127.06 356.38L127.46 354.76L127.87 353.13L128.27 351.49L128.69 349.85L129.11 348.21L129.53 346.56L129.96 344.90L130.40 343.25L130.84 341.59L131.28 339.93L131.73 338.26L132.19 336.60L132.64 334.93L133.11 333.26L133.58 331.59L134.05 329.92L134.53 328.25L135.02 326.59L135.51 324.92L136.00 323.25L136.50 321.58L137.00 319.92L137.51 318.26L138.03 316.60L138.54 314.94L139.07 313.28L139.60 311.63L140.13 309.98L140.67 308.33L141.21 306.69L141.76 305.05L142.31 303.42L142.87 301.78L143.43 300.16L143.99 298.54L144.57 296.92L145.14 295.31L145.72 293.70L146.31 292.10L146.90 290.50L147.49 288.91L148.09 287.32L148.70 285.74L149.31 284.17L149.92 282.60L150.54 281.04L151.16 279.48L151.79 277.93L152.42 276.39L153.06 274.86L153.70 273.33L154.34 271.80L154.99 270.29L155.65 268.78L156.31 267.28L156.97 265.79L157.64 264.30L158.31 262.82L158.99 261.35L159.67 259.88L160.36 258.43L161.05 256.98L161.74 255.54L162.44 254.10L163.14 252.68L163.85 251.26L164.56 249.85L165.28 248.45L166.00 247.06L166.73 245.67L167.46 244.29L168.19 242.92L168.93 241.56L169.67 240.21L170.42 238.86L171.17 237.52L171.92 236.20L172.68 234.87L173.44 233.56L174.21 232.26L174.98 230.96L175.76 229.68L176.54 228.40L177.32 227.13L178.11 225.86L178.90 224.61L179.70 223.36L180.50 222.13L181.30 220.90L182.11 219.68L182.92 218.47L183.74 217.26L184.56 216.07L185.38 214.88L186.21 213.70L187.04 212.53L187.87 211.37L188.71 210.22L189.56 209.07L190.40 207.94L191.26 206.81L192.11 205.69L192.97 204.58L193.83 203.47L194.70 202.38L195.57 201.29L196.44 200.21L197.32 199.14L198.20 198.08L199.08 197.03L199.97 195.98L200.86 194.95L201.75 193.92L202.65 192.90L203.56 191.88L204.46 190.88L205.37 189.88L206.28 188.90L207.20 187.92L208.12 186.94L209.04 185.98L209.97 185.02L210.90 184.08L211.83 183.13L212.77 182.20L213.71 181.28L214.65 180.36L215.60 179.45L216.55 178.55L217.50 177.66L218.46 176.77L219.42 175.90L220.38 175.03L221.35 174.17L222.32 173.31L223.29 172.46L224.27 171.63L225.25 170.79L226.23 169.97L227.21 169.15L228.20 168.35L229.19 167.54L230.19 166.75L231.18 165.96L232.18 165.18L233.19 164.41L234.19 163.65L235.20 162.89L236.21 162.14L237.23 161.40L238.25 160.67L239.27 159.94L240.29 159.22L241.32 158.50L242.35 157.80L243.38 157.10L244.41 156.41L245.45 155.72L246.49 155.04L247.53 154.37L248.58 153.71L249.62 153.05L250.67 152.40L251.73 151.76L252.78 151.12L253.84 150.49L254.90 149.87L255.96 149.26L257.03 148.65L258.10 148.04L259.17 147.45L260.24 146.86L261.32 146.28L262.39 145.70L263.47 145.13L264.56 144.57L265.64 144.01L266.73 143.47L267.82 142.92L268.91 142.39L270.00 141.86L271.10 141.33L272.20 140.82L273.30 140.31L274.40 139.80L275.50 139.30L276.61 138.81L277.72 138.33L278.83 137.85L279.94 137.38L281.06 136.91L282.17 136.45L283.29 136.00L284.41 135.55L285.54 135.11L286.66 134.67L287.79 134.24L288.91 133.82L290.04 133.40L291.18 132.99L292.31 132.58L293.44 132.18L294.58 131.79L295.72 131.40L296.86 131.02L298.00 130.65L299.15 130.28L300.29 129.91L301.44 129.55L302.59 129.20L303.74 128.86L304.89 128.51L306.04 128.18L307.19 127.85L308.35 127.53L309.51 127.21L310.67 126.90L311.83 126.59L312.99 126.29L314.15 126.00L315.31 125.71L316.48 125.42L317.65 125.15L318.81 124.87L319.98 124.61L321.15 124.35L322.32 124.09L323.50 123.84L324.67 123.60L325.84 123.36L327.02 123.12L328.20 122.90L329.37 122.67L330.55 122.46L331.73 122.24L332.91 122.04L334.10 121.84L335.28 121.64L336.46 121.45L337.65 121.27L338.83 121.09L340.02 120.92L341.20 120.75L342.39 120.58L343.58 120.43L344.77 120.27L345.96 120.13L347.15 119.99L348.34 119.85L349.53 119.72L350.72 119.59L351.92 119.47L353.11 119.36L354.30 119.25L355.50 119.14L356.69 119.04L357.89 118.95L359.08 118.86L360.28 118.78L361.48 118.70L362.67 118.62L363.87 118.56L365.07 118.49L366.26 118.44L367.46 118.38L368.66 118.34L369.86 118.30L371.06 118.26L372.26 118.23L373.45 118.20L374.65 118.18L375.85 118.17L377.05 118.16L378.25 118.15L379.45 118.15L380.65 118.16L381.85 118.17L383.05 118.18L384.25 118.20L385.44 118.23L386.64 118.26L387.84 118.30L389.04 118.34L390.24 118.38L391.44 118.44L392.63 118.49L393.83 118.56L395.03 118.62L396.22 118.70L397.42 118.78L398.62 118.86L399.81 118.95L401.01 119.04L402.20 119.14L403.40 119.25L404.59 119.36L405.78 119.47L406.98 119.59L408.17 119.72L409.36 119.85L410.55 119.99L411.74 120.13L412.93 120.27L414.12 120.43L415.31 120.58L416.50 120.75L417.68 120.92L418.87 121.09L420.05 121.27L421.24 121.45L422.42 121.64L423.60 121.84L424.79 122.04L425.97 122.24L427.15 122.46L428.33 122.67L429.50 122.90L430.68 123.12L431.86 123.36L433.03 123.60L434.20 123.84L435.38 124.09L436.55 124.35L437.72 124.61L438.89 124.87L440.05 125.15L441.22 125.42L442.39 125.71L443.55 126.00L444.71 126.29L445.87 126.59L447.03 126.90L448.19 127.21L449.35 127.53L450.51 127.85L451.66 128.18L452.81 128.51L453.96 128.86L455.11 129.20L456.26 129.55L457.41 129.91L458.55 130.28L459.70 130.65L460.84 131.02L461.98 131.40L463.12 131.79L464.26 132.18L465.39 132.58L466.52 132.99L467.66 133.40L468.79 133.82L469.91 134.24L471.04 134.67L472.16 135.11L473.29 135.55L474.41 136.00L475.53 136.45L476.64 136.91L477.76 137.38L478.87 137.85L479.98 138.33L481.09 138.81L482.20 139.30L483.30 139.80L484.40 140.31L485.50 140.82L486.60 141.33L487.70 141.86L488.79 142.39L489.88 142.92L490.97 143.47L492.06 144.01L493.14 144.57L494.23 145.13L495.31 145.70L496.38 146.28L497.46 146.86L498.53 147.45L499.60 148.04L500.67 148.65L501.74 149.26L502.80 149.87L503.86 150.49L504.92 151.12L505.97 151.76L507.03 152.40L508.08 153.05L509.12 153.71L510.17 154.37L511.21 155.04L512.25 155.72L513.29 156.41L514.32 157.10L515.35 157.80L516.38 158.50L517.41 159.22L518.43 159.94L519.45 160.67L520.47 161.40L521.49 162.14L522.50 162.89L523.51 163.65L524.51 164.41L525.52 165.18L526.52 165.96L527.51 166.75L528.51 167.54L529.50 168.35L530.49 169.15L531.47 169.97L532.45 170.79L533.43 171.63L534.41 172.46L535.38 173.31L536.35 174.17L537.32 175.03L538.28 175.90L539.24 176.77L540.20 177.66L541.15 178.55L542.10 179.45L543.05 180.36L543.99 181.28L544.93 182.20L545.87 183.13L546.80 184.08L547.73 185.02L548.66 185.98L549.58 186.94L550.50 187.92L551.42 188.90L552.33 189.88L553.24 190.88L554.14 191.88L555.05 192.90L555.95 193.92L556.84 194.95L557.73 195.98L558.62 197.03L559.50 198.08L560.38 199.14L561.26 200.21L562.13 201.29L563.00 202.38L563.87 203.47L564.73 204.58L565.59 205.69L566.44 206.81L567.30 207.94L568.14 209.07L568.99 210.22L569.83 211.37L570.66 212.53L571.49 213.70L572.32 214.88L573.14 216.07L573.96 217.26L574.78 218.47L575.59 219.68L576.40 220.90L577.20 222.13L578.00 223.36L578.80 224.61L579.59 225.86L580.38 227.13L581.16 228.40L581.94 229.68L582.72 230.96L583.49 232.26L584.26 233.56L585.02 234.87L585.78 236.20L586.53 237.52L587.28 238.86L588.03 240.21L588.77 241.56L589.51 242.92L590.24 244.29L590.97 245.67L591.70 247.06L592.42 248.45L593.14 249.85L593.85 251.26L594.56 252.68L595.26 254.10L595.96 255.54L596.65 256.98L597.34 258.43L598.03 259.88L598.71 261.35L599.39 262.82L600.06 264.30L600.73 265.79L601.39 267.28L602.05 268.78L602.71 270.29L603.36 271.80L604.00 273.33L604.64 274.86L605.28 276.39L605.91 277.93L606.54 279.48L607.16 281.04L607.78 282.60L608.39 284.17L609.00 285.74L609.61 287.32L610.21 288.91L610.80 290.50L611.39 292.10L611.98 293.70L612.56 295.31L613.13 296.92L613.71 298.54L614.27 300.16L614.83 301.78L615.39 303.42L615.94 305.05L616.49 306.69L617.03 308.33L617.57 309.98L618.10 311.63L618.63 313.28L619.16 314.94L619.67 316.60L620.19 318.26L620.70 319.92L621.20 321.58L621.70 323.25L622.19 324.92L622.68 326.59L623.17 328.25L623.65 329.92L624.12 331.59L624.59 333.26L625.06 334.93L625.51 336.60L625.97 338.26L626.42 339.93L626.86 341.59L627.30 343.25L627.74 344.90L628.17 346.56L628.59 348.21L629.01 349.85L629.43 351.49L629.83 353.13L630.24 354.76L630.64 356.38L631.03 358.00L631.42 359.61L631.80 361.21L632.18 362.80L632.56 364.39L632.93 365.96L633.29 367.53L633.65 369.09L634.00 370.63L634.35 372.17L634.69 373.69L635.03 375.20L635.36 376.70L635.69 378.18L636.01 379.65L636.33 381.11L636.64 382.55L636.95 383.97L637.25 385.38L637.54 386.77L637.83 388.14L638.12 389.49L638.40 390.83L638.67 392.15L638.94 393.44L639.21 394.72L639.47 395.98L639.72 397.21L639.97 398.42L640.21 399.61L640.45 400.78L640.69 401.93L640.91 403.05L641.14 404.15L641.35 405.22L641.56 406.28L641.77 407.30L641.97 408.31L642.17 409.29L642.36 410.24L642.54 411.17L642.72 412.08L642.90 412.96L643.07 413.82L643.23 414.66L643.39 415.47L643.54 416.26L643.69 417.03L643.83 417.77L643.97 418.49L644.10 419.19L644.23 419.86L644.35 420.52L644.46 421.15L644.58 421.76L644.68 422.34L644.78 422.91L644.87 423.45L644.96 423.97L645.05 424.46L645.12 424.93L645.20 425.38L645.26 425.80L645.33 426.19L645.38 426.55L645.43 426.88L645.48 427.19L645.52 427.46L645.56 427.69L645.58 427.90L645.61 428.06L645.63 428.20L645.64 428.29L645.65 428.35L645.65 428.37" stroke="#0000ff" stroke-dasharray="13.3 12.01" stroke-dashoffset="23.35"/>
</g>
<g fill="#ff0000">
<circle cx="118.10" cy="425.80" r="0.58"/>
<circle cx="120.40" cy="415.40" r="0.58"/>
<circle cx="122.50" cy="405.40" r="0.58"/>
<circle cx="124.80" cy="395.40" r="0.58"/>
<circle cx="127.50" cy="385.40" r="0.58"/>
<circle cx="130.20" cy="375.40" r="0.58"/>
<circle cx="132.90" cy="365.40" r="0.58"/>
<circle cx="135.80" cy="355.40" r="0.58"/>
<circle cx="139.00" cy="345.60" r="0.58"/>
<circle cx="142.10" cy="335.60" r="0.58"/>
<circle cx="145.50" cy="325.75" r="0.58"/>
<circle cx="149.00" cy="316.00" r="0.58"/>
<circle cx="153.00" cy="306.25" r="0.58"/>
<circle cx="157.25" cy="297.00" r="0.58"/>
<circle cx="162.25" cy="287.75" r="0.58"/>
<circle cx="167.25" cy="278.50" r="0.58"/>
<circle cx="172.50" cy="269.50" r="0.58"/>
<circle cx="178.00" cy="261.00" r="0.58"/>
<circle cx="183.50" cy="252.50" r="0.58"/>
<circle cx="189.25" cy="243.75" r="0.58"/>
<circle cx="195.50" cy="235.25" r="0.58"/>
<circle cx="202.50" cy="227.50" r="0.58"/>
<circle cx="209.75" cy="220.00" r="0.58"/>
<circle cx="217.25" cy="212.75" r="0.58"/>
<circle cx="224.75" cy="205.75" r="0.58"/>
<circle cx="233.00" cy="199.50" r="0.58"/>
<circle cx="241.50" cy="193.00" r="0.58"/>
<circle cx="250.50" cy="187.50" r="0.58"/>
<circle cx="259.75" cy="182.50" r="0.58"/>
<circle cx="268.50" cy="178.00" r="0.58"/>
<circle cx="278.00" cy="173.75" r="0.58"/>
<circle cx="287.75" cy="169.75" r="0.58"/>
<circle cx="297.50" cy="166.25" r="0.58"/>
<circle cx="307.25" cy="163.25" r="0.58"/>
<circle cx="317.25" cy="160.50" r="0.58"/>
<circle cx="327.50" cy="158.25" r="0.58"/>
<circle cx="337.75" cy="156.75" r="0.58"/>
<circle cx="348.25" cy="155.25" r="0.58"/>
<circle cx="358.50" cy="154.25" r="0.58"/>
<circle cx="368.75" cy="154.00" r="0.58"/>
<circle cx="379.25" cy="153.75" r="0.58"/>
<circle cx="389.75" cy="154.00" r="0.58"/>
<circle cx="400.00" cy="154.25" r="0.58"/>
<circle cx="410.50" cy="155.25" r="0.58"/>
<circle cx="420.75" cy="157.25" r="0.58"/>
<circle cx="430.75" cy="158.75" r="0.58"/>
<circle cx="441.00" cy="161.00" r="0.58"/>
<circle cx="451.00" cy="163.50" r="0.58"/>
<circle cx="461.00" cy="166.50" r="0.58"/>
<circle cx="470.75" cy="170.00" r="0.58"/>
<circle cx="480.50" cy="174.00" r="0.58"/>
<circle cx="490.00" cy="178.25" r="0.58"/>
<circle cx="499.25" cy="183.25" r="0.58"/>
<circle cx="508.25" cy="188.25" r="0.58"/>
<circle cx="516.75" cy="194.00" r="0.58"/>
<circle cx="525.25" cy="200.00" r="0.58"/>
<circle cx="533.25" cy="206.50" r="0.58"/>
<circle cx="541.00" cy="213.50" r="0.58"/>
<circle cx="548.50" cy="220.75" r="0.58"/>
<circle cx="555.50" cy="228.25" r="0.58"/>
<circle cx="562.50" cy="236.00" r="0.58"/>
<circle cx="630.40" cy="386.30" r="0.58"/>
<circle cx="633.10" cy="396.30" r="0.58"/>
<circle cx="635.40" cy="406.60" r="0.58"/>
<circle cx="637.40" cy="416.70" r="0.58"/>
<circle cx="627.60" cy="376.25" r="0.58"/>
<circle cx="624.90" cy="366.25" r="0.58"/>
<circle cx="622.00" cy="356.25" r="0.58"/>
<circle cx="618.80" cy="346.45" r="0.58"/>
<circle cx="615.70" cy="336.45" r="0.58"/>
<circle cx="612.30" cy="326.60" r="0.58"/>
<circle cx="608.80" cy="316.85" r="0.58"/>
<circle cx="604.80" cy="307.10" r="0.58"/>
<circle cx="600.55" cy="297.85" r="0.58"/>
<circle cx="595.55" cy="288.60" r="0.58"/>
<circle cx="590.55" cy="279.35" r="0.58"/>
<circle cx="585.30" cy="270.35" r="0.58"/>
<circle cx="579.80" cy="261.85" r="0.58"/>
<circle cx="574.30" cy="253.35" r="0.58"/>
<circle cx="568.55" cy="244.60" r="0.58"/>
</g>
<g fill="none" stroke-width="0.84">
<path d="M252 261.5H302" stroke="#0000ff"/>
<path d="M252 287.5h10.6M271.8 287.5h1M282 287.5h10.6" stroke="#ff0000"/>
<path d="M252 348.5h13.8M277.3 348.5h13.7" stroke="#0000ff"/>
</g>
<g fill="#ff0000">
<circle cx="252.70" cy="384.1" r="0.55"/>
<circle cx="263.20" cy="384.1" r="0.55"/>
<circle cx="273.60" cy="384.1" r="0.55"/>
<circle cx="284.10" cy="384.1" r="0.55"/>
<circle cx="294.50" cy="384.1" r="0.55"/>
</g>
<text transform="translate(41.80 12.40) scale(1.1981 1)" font-size="15.2" fill="#111" class="tk">0.1000</text>
<text transform="translate(41.80 54.54) scale(1.1981 1)" font-size="15.2" fill="#111" class="tk">0.0500</text>
<text transform="translate(41.80 152.40) scale(1.1981 1)" font-size="15.2" fill="#111" class="tk">0.0100</text>
<text transform="translate(41.80 194.54) scale(1.1981 1)" font-size="15.2" fill="#111" class="tk">0.0050</text>
<text transform="translate(41.80 292.40) scale(1.1981 1)" font-size="15.2" fill="#111" class="tk">0.0010</text>
<text transform="translate(41.80 334.54) scale(1.1909 1)" font-size="15.2" fill="#111" class="tk">0.0005</text>
<text transform="translate(41.80 432.40) scale(1.1909 1)" font-size="15.2" fill="#111" class="tk">0.0001</text>
<path d="M88.8 441.9H98.2" stroke="#111" stroke-width="1" fill="none"/>
<text transform="translate(99.80 446.30) scale(1.1184 1)" font-size="15.2" fill="#111" class="tk">4</text>
<path d="M229.3 441.9H238.7" stroke="#111" stroke-width="1" fill="none"/>
<text transform="translate(240.60 446.30) scale(1.1579 1)" font-size="15.2" fill="#111" class="tk">2</text>
<text transform="translate(374.70 446.30) scale(1.0921 1)" font-size="15.2" fill="#111" class="tk">0</text>
<text transform="translate(515.20 446.30) scale(1.1579 1)" font-size="15.2" fill="#111" class="tk">2</text>
<text transform="translate(655.30 446.30) scale(1.1316 1)" font-size="15.2" fill="#111" class="tk">4</text>
<text transform="translate(366.80 475.70) scale(0.9280 1)" font-size="25" fill="#111" class="th">y</text>
<text transform="translate(380.50 480.20) scale(0.8819 1)" font-size="16.5" fill="#111">H</text>
<text transform="translate(322.65 270.00) scale(0.8502 1)" font-size="20.6" fill="#0000ff" class="th">N</text>
<text transform="translate(336.20 270.00) scale(0.7144 1)" font-size="20.6" fill="#0000ff" class="th">L</text>
<text transform="translate(346.10 270.00) scale(0.9140 1)" font-size="20.6" fill="#0000ff" class="th">O</text>
<text transform="translate(363.30 270.00) scale(0.6010 1)" font-size="20.6" fill="#0000ff" class="th">,</text>
<text transform="translate(379.60 270.00) scale(1.0470 1)" font-size="20.6" fill="#0000ff" class="th">p</text>
<path d="M393.5 273.09999999999997H402.2M397.85 267.59999999999997V273.09999999999997" stroke="#0000ff" stroke-width="0.78" fill="none"/>
<path d="M416.5 262.2H429.2M416.5 266.29999999999995H429.2" stroke="#0000ff" stroke-width="0.85" fill="none"/>
<text transform="translate(442.20 270.00) scale(1.0179 1)" font-size="20.6" fill="#0000ff" class="th">5</text>
<text transform="translate(453.80 270.00) scale(1.0760 1)" font-size="20.6" fill="#0000ff" class="th">0</text>
<text transform="translate(477.60 270.00) scale(0.9140 1)" font-size="20.6" fill="#0000ff" class="th">G</text>
<text transform="translate(492.80 270.00) scale(1.0372 1)" font-size="20.6" fill="#0000ff" class="th">e</text>
<text transform="translate(503.30 270.00) scale(0.8199 1)" font-size="20.6" fill="#0000ff" class="th">V</text>
<text transform="translate(323.00 296.00) scale(0.7621 1)" font-size="20.6" fill="#ff0000" class="th">L</text>
<text transform="translate(333.50 296.00) scale(0.9073 1)" font-size="20.6" fill="#ff0000" class="th">O</text>
<text transform="translate(349.40 296.00) scale(0.6010 1)" font-size="20.6" fill="#ff0000" class="th">,</text>
<text transform="translate(375.00 296.00) scale(1.0566 1)" font-size="20.6" fill="#ff0000" class="th">p</text>
<path d="M389.0 299.09999999999997H397.7M393.35 293.59999999999997V299.09999999999997" stroke="#ff0000" stroke-width="0.78" fill="none"/>
<path d="M411.8 288.2H424.8M411.8 292.29999999999995H424.8" stroke="#ff0000" stroke-width="0.85" fill="none"/>
<text transform="translate(437.50 296.00) scale(1.0179 1)" font-size="20.6" fill="#ff0000" class="th">5</text>
<text transform="translate(449.50 296.00) scale(1.0857 1)" font-size="20.6" fill="#ff0000" class="th">0</text>
<text transform="translate(472.70 296.00) scale(0.9140 1)" font-size="20.6" fill="#ff0000" class="th">G</text>
<text transform="translate(487.90 296.00) scale(1.0372 1)" font-size="20.6" fill="#ff0000" class="th">e</text>
<text transform="translate(498.40 296.00) scale(0.8199 1)" font-size="20.6" fill="#ff0000" class="th">V</text>
<text transform="translate(322.65 356.60) scale(0.8502 1)" font-size="20.6" fill="#0000ff" class="th">N</text>
<text transform="translate(336.20 356.60) scale(0.7144 1)" font-size="20.6" fill="#0000ff" class="th">L</text>
<text transform="translate(346.10 356.60) scale(0.9140 1)" font-size="20.6" fill="#0000ff" class="th">O</text>
<text transform="translate(363.30 356.60) scale(0.6010 1)" font-size="20.6" fill="#0000ff" class="th">,</text>
<text transform="translate(379.60 356.60) scale(1.0470 1)" font-size="20.6" fill="#0000ff" class="th">p</text>
<path d="M393.5 360.4H402.2M397.85 354.9V360.4" stroke="#0000ff" stroke-width="0.78" fill="none"/>
<path d="M416.5 349.5H429.2M416.5 353.59999999999997H429.2" stroke="#0000ff" stroke-width="0.85" fill="none"/>
<text transform="translate(444.30 356.60) scale(0.6107 1)" font-size="20.6" fill="#0000ff" class="th">1</text>
<text transform="translate(453.80 356.60) scale(1.0760 1)" font-size="20.6" fill="#0000ff" class="th">0</text>
<text transform="translate(466.40 356.60) scale(1.0857 1)" font-size="20.6" fill="#0000ff" class="th">0</text>
<text transform="translate(490.70 356.60) scale(0.9140 1)" font-size="20.6" fill="#0000ff" class="th">G</text>
<text transform="translate(505.90 356.60) scale(1.0372 1)" font-size="20.6" fill="#0000ff" class="th">e</text>
<text transform="translate(516.40 356.60) scale(0.8199 1)" font-size="20.6" fill="#0000ff" class="th">V</text>
<text transform="translate(323.00 392.70) scale(0.7621 1)" font-size="20.6" fill="#ff0000" class="th">L</text>
<text transform="translate(333.50 392.70) scale(0.9073 1)" font-size="20.6" fill="#ff0000" class="th">O</text>
<text transform="translate(349.40 392.70) scale(0.6010 1)" font-size="20.6" fill="#ff0000" class="th">,</text>
<text transform="translate(375.00 392.70) scale(1.0566 1)" font-size="20.6" fill="#ff0000" class="th">p</text>
<path d="M389.0 396.0H397.7M393.35 390.5V396.0" stroke="#ff0000" stroke-width="0.78" fill="none"/>
<path d="M411.8 385.1H424.8M411.8 389.2H424.8" stroke="#ff0000" stroke-width="0.85" fill="none"/>
<text transform="translate(440.00 392.70) scale(0.6204 1)" font-size="20.6" fill="#ff0000" class="th">1</text>
<text transform="translate(448.90 392.70) scale(1.1245 1)" font-size="20.6" fill="#ff0000" class="th">0</text>
<text transform="translate(462.20 392.70) scale(1.1245 1)" font-size="20.6" fill="#ff0000" class="th">0</text>
<text transform="translate(486.00 392.70) scale(0.9140 1)" font-size="20.6" fill="#ff0000" class="th">G</text>
<text transform="translate(501.20 392.70) scale(1.0372 1)" font-size="20.6" fill="#ff0000" class="th">e</text>
<text transform="translate(511.70 392.70) scale(0.8199 1)" font-size="20.6" fill="#ff0000" class="th">V</text>
<text transform="translate(19.20 344.45) rotate(-90) scale(0.9760 1)" font-size="25" fill="#111" class="tt">d</text>
<text transform="translate(19.20 331.95) rotate(-90) scale(1.0914 1)" font-size="25" fill="#111" class="tt">σ</text>
<path d="M22.5 315.0L0.3 301.7" stroke="#111" stroke-width="1" fill="none"/>
<text transform="translate(19.20 299.45) rotate(-90) scale(1.1120 1)" font-size="25" fill="#111" class="tt">d</text>
<text transform="translate(19.20 285.25) rotate(-90) scale(1.1040 1)" font-size="25" fill="#111" class="tt">p</text>
<path d="M22.8 260V268.3M15.8 264.15H22.8" stroke="#111" stroke-width="1" fill="none"/>
<path d="M22.5 255.8L0.3 242.5" stroke="#111" stroke-width="1" fill="none"/>
<text transform="translate(19.20 241.05) rotate(-90) scale(1.1040 1)" font-size="25" fill="#111" class="tt">d</text>
<text transform="translate(19.20 226.05) rotate(-90) scale(1.0400 1)" font-size="25" fill="#111" class="tt">y</text>
<text transform="translate(24.20 211.95) rotate(-90) scale(0.8819 1)" font-size="16.5" fill="#111">H</text>
<text transform="translate(19.20 187.75) rotate(-90) scale(0.9624 1)" font-size="25" fill="#111" class="tt">(</text>
<text transform="translate(19.20 178.55) rotate(-90) scale(1.1680 1)" font-size="25" fill="#111" class="tt">p</text>
<text transform="translate(19.20 163.55) rotate(-90) scale(0.9680 1)" font-size="25" fill="#111" class="tt">b</text>
<path d="M22.5 148.3L0.3 135.8" stroke="#111" stroke-width="1" fill="none"/>
<text transform="translate(19.20 133.25) rotate(-90) scale(0.7612 1)" font-size="25" fill="#111" class="tt">G</text>
<text transform="translate(19.20 117.00) rotate(-90) scale(1.0456 1)" font-size="25" fill="#111" class="tt">e</text>
<text transform="translate(19.20 104.00) rotate(-90) scale(0.7585 1)" font-size="25" fill="#111" class="tt">V</text>
<text transform="translate(19.20 89.40) rotate(-90) scale(0.8060 1)" font-size="25" fill="#111" class="tt">)</text>
</svg>
</body></html>
